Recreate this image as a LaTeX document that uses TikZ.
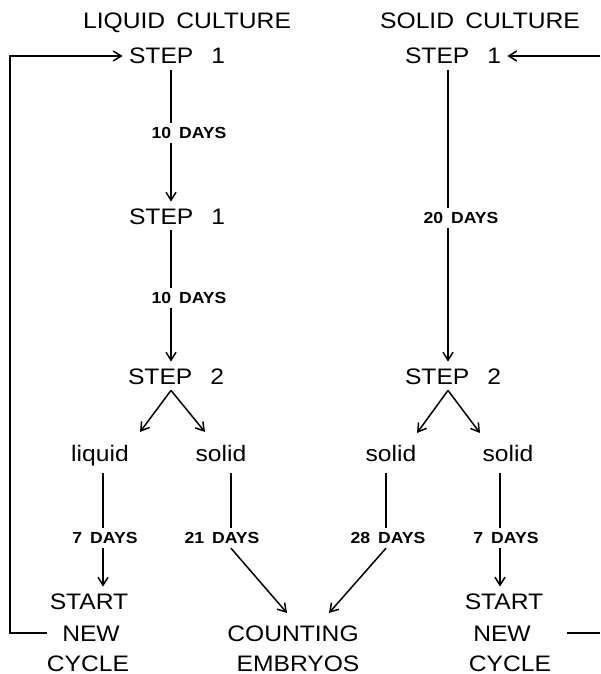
\documentclass[tikz,border=0pt]{standalone}
\usepackage{fontspec}
\setmainfont{Liberation Sans}[FakeStretch=1.1]
\usetikzlibrary{arrows.meta}
\begin{document}
\begin{tikzpicture}[x=0.5pt,y=-0.5pt,
  big/.style={font=\fontsize{11.2}{13}\selectfont, inner sep=3pt, text height=8pt, text depth=0pt},
  word/.style={font=\fontsize{11.2}{13}\selectfont, inner sep=3pt, text height=8.3pt, text depth=2.4pt},
  lbl/.style={font=\bfseries\fontsize{8}{10}\selectfont, inner sep=2pt, text height=5.8pt, text depth=0pt},
  low/.style={inner sep=1pt},
  ln/.style={line width=0.75pt},
  arr/.style={ln, -{Straight Barb[length=4pt,width=5pt]}},
]
\useasboundingbox (0,0) rectangle (600,674);
% line positions
\coordinate (xL) at (171,0);
\coordinate (xR) at (448,0);
\coordinate (xliq) at (103,0);
\coordinate (xsolL) at (231,0);
\coordinate (xsol3) at (386,0);
\coordinate (xsol4) at (500,0);
\coordinate (lpL) at (10,0);
\coordinate (edgeR) at (600,0);
% titles
\node[big] (titL) at (187,21) {LIQUID\hspace{0.5em}CULTURE};
\node[big] (titR) at (480,21) {SOLID\hspace{0.5em}CULTURE};
% left column
\node[big] (s1L) at (177,56) {STEP\hspace{0.8em}1};
\node[lbl] (d1L) at (189,133) {10\hspace{0.5em}DAYS};
\node[big] (s1L2) at (177,216) {STEP\hspace{0.8em}1};
\node[lbl] (d2L) at (189,298) {10\hspace{0.5em}DAYS};
\node[big] (s2L) at (176,376) {STEP\hspace{0.8em}2};
\node[word] (liq) at (100,456) {liquid};
\node[word] (solL) at (221,456) {solid};
\node[lbl] (d7L) at (105,538) {7\hspace{0.5em}DAYS};
\node[lbl] (d21) at (222,538) {21\hspace{0.5em}DAYS};
\node[big] (startL) at (89,601) {START};
\node[big] (newL) at (91,633) {NEW};
\node[big,low] (cycL) at (88,663) {CYCLE};
\node[big] (count) at (293,633) {COUNTING};
\node[big,low] (emb) at (298,663) {EMBRYOS};
% right column
\node[big] (s1R) at (453,56) {STEP\hspace{0.8em}1};
\node[lbl] (d20) at (461,218) {20\hspace{0.5em}DAYS};
\node[big] (s2R) at (453,376) {STEP\hspace{0.8em}2};
\node[word] (sol3) at (391,456) {solid};
\node[word] (sol4) at (508,456) {solid};
\node[lbl] (d28) at (388,538) {28\hspace{0.5em}DAYS};
\node[lbl] (d7R) at (506,538) {7\hspace{0.5em}DAYS};
\node[big] (startR) at (504,601) {START};
\node[big] (newR) at (502,633) {NEW};
\node[big,low] (cycR) at (510,663) {CYCLE};
% arrow tips
\coordinate (tLa) at (140,432);
\coordinate (tLb) at (205,432);
\coordinate (tRa) at (417,433);
\coordinate (tRb) at (480,433);
\coordinate (tC1) at (287,613);
\coordinate (tC2) at (329,613);
% left connectors
\draw[ln] (s1L.south -| xL) -- (d1L.north -| xL);
\draw[arr] (d1L.south -| xL) -- (s1L2.north -| xL);
\draw[ln] (s1L2.south -| xL) -- (d2L.north -| xL);
\draw[arr] (d2L.south -| xL) -- (s2L.north -| xL);
\draw[arr] (s2L.south -| xL) -- (tLa);
\draw[arr] (s2L.south -| xL) -- (tLb);
\draw[ln] (liq.south -| xliq) -- (d7L.north -| xliq);
\draw[arr] (d7L.south -| xliq) -- (startL.north -| xliq);
\draw[ln] (solL.south -| xsolL) -- (d21.north -| xsolL);
\draw[arr] (d21.south -| xsolL) -- (tC1);
\draw[arr] ([xshift=-4.5pt]newL.west) -- (newL.west -| lpL) -- (s1L.west -| lpL) -- (s1L.west);
% right connectors
\draw[ln] (s1R.south -| xR) -- (d20.north -| xR);
\draw[arr] (d20.south -| xR) -- (s2R.north -| xR);
\draw[arr] (s2R.south -| xR) -- (tRa);
\draw[arr] (s2R.south -| xR) -- (tRb);
\draw[ln] (sol3.south -| xsol3) -- (d28.north -| xsol3);
\draw[arr] (d28.south -| xsol3) -- (tC2);
\draw[ln] (sol4.south -| xsol4) -- (d7R.north -| xsol4);
\draw[arr] (d7R.south -| xsol4) -- (startR.north -| xsol4);
\draw[arr] (s1R.east -| edgeR) -- (s1R.east);
\draw[ln] ([xshift=15pt]newR.east) -- (newR.east -| edgeR);
\end{tikzpicture}
\end{document}
